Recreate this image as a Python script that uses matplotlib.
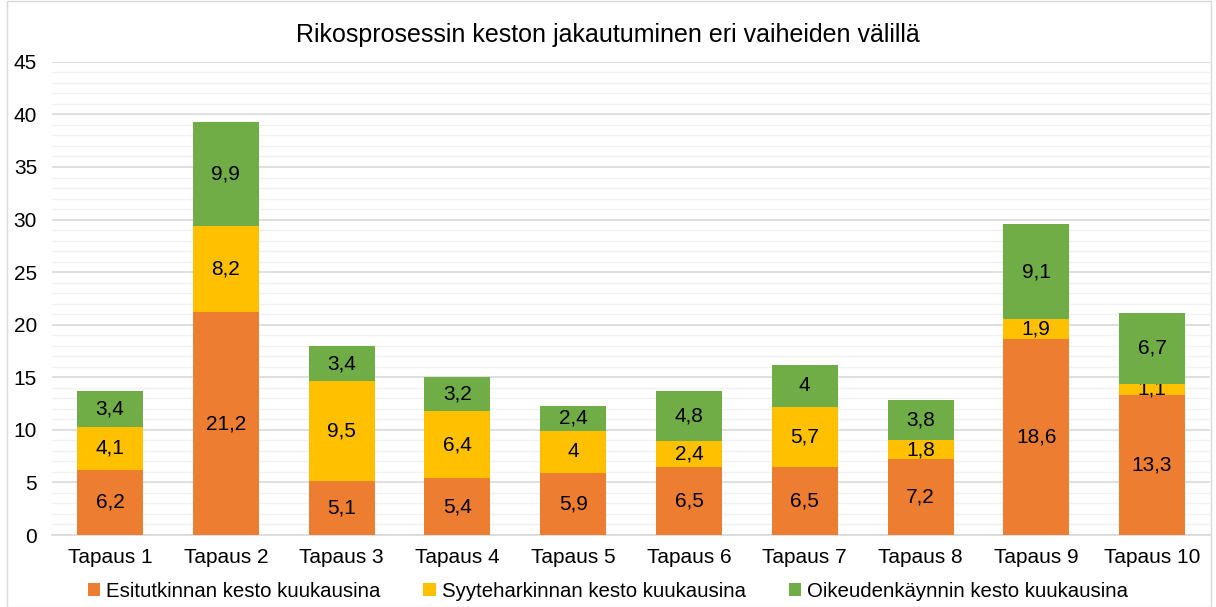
import numpy as np
import matplotlib.pyplot as plt
from matplotlib.patches import Rectangle
from matplotlib.ticker import MultipleLocator

plt.rcParams['font.family'] = ['Liberation Sans', 'DejaVu Sans']

categories = ['Tapaus 1', 'Tapaus 2', 'Tapaus 3', 'Tapaus 4', 'Tapaus 5',
              'Tapaus 6', 'Tapaus 7', 'Tapaus 8', 'Tapaus 9', 'Tapaus 10']
esitutkinta = [6.2, 21.2, 5.1, 5.4, 5.9, 6.5, 6.5, 7.2, 18.6, 13.3]
syyteharkinta = [4.1, 8.2, 9.5, 6.4, 4, 2.4, 5.7, 1.8, 1.9, 1.1]
oikeudenkaynti = [3.4, 9.9, 3.4, 3.2, 2.4, 4.8, 4, 3.8, 9.1, 6.7]

series = [
    ('Esitutkinnan kesto kuukausina', esitutkinta, '#ED7D31'),
    ('Syyteharkinnan kesto kuukausina', syyteharkinta, '#FFC000'),
    ('Oikeudenkäynnin kesto kuukausina', oikeudenkaynti, '#70AD47'),
]

def fmt(v):
    s = f"{v:g}"
    return s.replace('.', ',')

fig = plt.figure(figsize=(12.16, 6.07), dpi=100)
ax = fig.add_axes([0.043, 0.1186, 0.952, 0.7795])

x = np.arange(len(categories))
bottom = np.zeros(len(categories))
for name, vals, color in series:
    vals = np.array(vals, dtype=float)
    bars = ax.bar(x, vals, 0.57, bottom=bottom, color=color, label=name, zorder=3)
    ax.bar_label(bars, labels=[fmt(v) for v in vals], label_type='center',
                 fontsize=15, color='black')
    bottom += vals

ax.set_xlim(-0.5, len(categories) - 0.5)
ax.set_ylim(0, 45)
ax.yaxis.set_major_locator(MultipleLocator(5))
ax.yaxis.set_minor_locator(MultipleLocator(1))
ax.grid(axis='y', which='major', color='#d9d9d9', linewidth=1.2, zorder=0)
ax.grid(axis='y', which='minor', color='#f2f2f2', linewidth=1.0, zorder=0)
ax.set_axisbelow(True)
for s in ['top', 'right', 'left']:
    ax.spines[s].set_visible(False)
ax.spines['bottom'].set_color('#d9d9d9')
ax.spines['bottom'].set_linewidth(1.2)
ax.tick_params(axis='both', which='both', length=0, labelsize=15, colors='black')
ax.tick_params(axis='y', pad=11)
ax.tick_params(axis='x', pad=9)
ax.set_xticks(x)
ax.set_xticklabels(categories)

fig.suptitle('Rikosprosessin keston jakautuminen eri vaiheiden välillä',
             fontsize=18, y=0.962)

fig.legend(loc='lower center', ncol=3, bbox_to_anchor=(0.5, -0.02), frameon=False,
           fontsize=14.7, handlelength=0.6, handleheight=0.6, handletextpad=0.3,
           columnspacing=2.1)

fig.patches.append(Rectangle((0.006, 0.0), 0.99, 0.999, transform=fig.transFigure,
                             fill=False, edgecolor='#d9d9d9', linewidth=1))

fig.savefig('out.png', dpi=100)
